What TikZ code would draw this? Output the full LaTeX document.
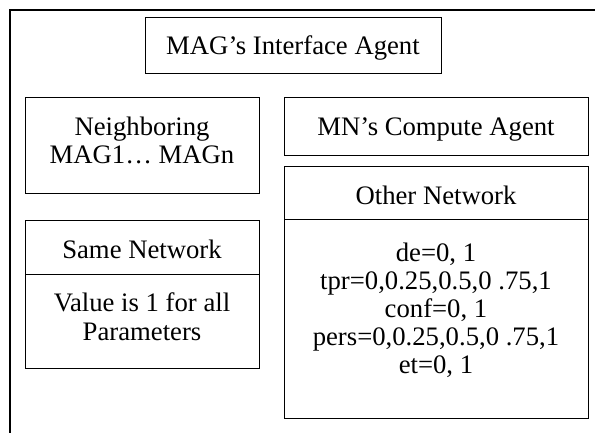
\documentclass[tikz,border=0pt]{standalone}
\usepackage{fontspec}
\setmainfont{Liberation Serif}
\begin{document}
\begin{tikzpicture}[x=1pt, y=-1pt, line width=1.2pt,
  box/.style={draw, rectangle, inner sep=0pt, anchor=north west},
  txt/.style={font=\fontsize{26.7}{28.8}\selectfont, align=center, anchor=north, inner sep=0pt}]
  \useasboundingbox (0,0) rectangle (595,432);
  \clip (0,0) rectangle (595,432);
  \draw[line width=1.8pt] (10,10) rectangle (620,460);
  % boxes
  \node[box, minimum width=296pt, minimum height=56pt] (iface) at (145,17) {};
  \node[box, minimum width=234pt, minimum height=96pt] (neigh) at (25,97) {};
  \node[box, minimum width=304pt, minimum height=58pt] (compute) at (284,97) {};
  \node[box, minimum width=304pt, minimum height=53pt] (otherhd) at (284,166) {};
  \node[box, minimum width=304pt, minimum height=199pt] (otherbd) at (284,219) {};
  \node[box, minimum width=234pt, minimum height=54pt] (samehd) at (25,220) {};
  \node[box, minimum width=234pt, minimum height=94pt] (samebd) at (25,274) {};
  % texts
  \node[txt] (ifaceT) at (293,35.5) {MAG’s Interface Agent};
  \node[txt] (neighT) at (142,116) {Neighboring\\MAG1… MAGn};
  \node[txt] (computeT) at (436,117) {MN’s Compute Agent};
  \node[txt] (otherhdT) at (436,185) {Other Network};
  \node[txt, font=\fontsize{26.7}{28.2}\selectfont] (otherbdT) at (436,242) {de=0, 1\\tpr=0,0.25,0.5,0 .75,1\\conf=0, 1\\pers=0,0.25,0.5,0 .75,1\\et=0, 1};
  \node[txt] (samehdT) at (142,239) {Same Network};
  \node[txt] (samebdT) at (142,292) {Value is 1 for all\\Parameters};
\end{tikzpicture}
\end{document}
